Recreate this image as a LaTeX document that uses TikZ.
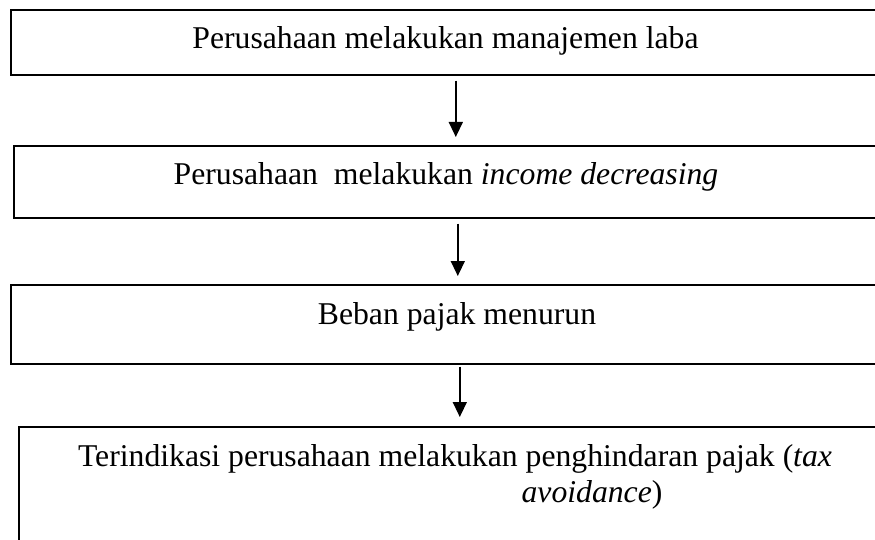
\documentclass[tikz,border=0pt]{standalone}
\usepackage{fontspec}
\setmainfont{Liberation Serif}
\usetikzlibrary{arrows.meta}
\begin{document}
\begin{tikzpicture}[x=1pt,y=-1pt,
  box/.style={draw=black, line width=1.6pt, rectangle, anchor=north west, inner sep=0pt},
  lbl/.style={anchor=base, inner sep=0pt, font=\fontsize{31.7}{36}\selectfont},
  arr/.style={line width=1.4pt, -{Triangle[length=15pt,width=14pt]}}]
\useasboundingbox (0,0) rectangle (875,540);
\clip (0,0) rectangle (875,540);
\fill[white] (0,0) rectangle (875,540);
\node[box, minimum width=871pt, minimum height=65pt] (b1) at (10,9) {};
\node[box, minimum width=866pt, minimum height=72pt] (b2) at (13,145) {};
\node[box, minimum width=871pt, minimum height=79pt] (b3) at (10,284) {};
\node[box, minimum width=874pt, minimum height=140pt] (b4) at (18,426) {};
\node[lbl] (t1) at (445.5,49) {Perusahaan melakukan manajemen laba};
\node[lbl] (t2) at (446,185) {Perusahaan\ \ melakukan \textit{income decreasing}};
\node[lbl] (t3) at (457,324) {Beban pajak menurun};
\node[lbl] (t4a) at (455,466) {Terindikasi perusahaan melakukan penghindaran pajak (\textit{tax}};
\node[lbl] (t4b) at (592,502) {\textit{avoidance})};
\draw[arr] ([xshift=9.5pt,yshift=-5pt]b1.south) -- ([xshift=9pt,yshift=8pt]b2.north);
\draw[arr] ([xshift=11pt,yshift=-5pt]b2.south) -- ([xshift=11.5pt,yshift=8pt]b3.north);
\draw[arr] ([xshift=13.5pt,yshift=-2pt]b3.south) -- ([xshift=4pt,yshift=9pt]b4.north);
\end{tikzpicture}
\end{document}
